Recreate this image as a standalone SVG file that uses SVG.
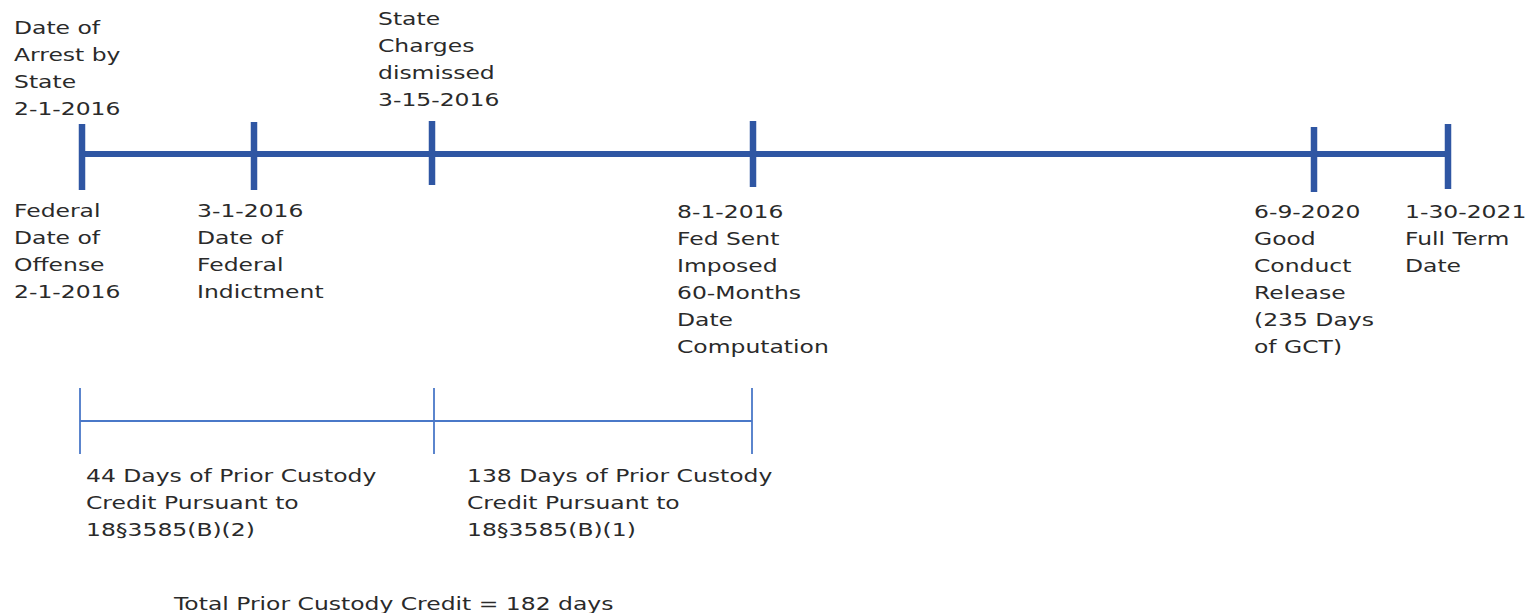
<svg xmlns="http://www.w3.org/2000/svg" width="1540" height="613" viewBox="0 0 1540 613">
  <style>
    .lbl { font-family: "DejaVu Sans", "Liberation Sans", sans-serif; font-size: 17.5px; fill: #2a2a2a; }
    .main { stroke: #2F56A3; stroke-width: 6; fill: none; }
    .tick { stroke: #2F56A3; stroke-width: 6.5; fill: none; }
    .thin { stroke: #4A78C8; stroke-width: 1.8; fill: none; }
  </style>
  <rect width="1540" height="613" fill="#ffffff"/>

  <g id="connectors">
    <line class="main" x1="82" y1="154" x2="1448" y2="154"/>
    <line class="thin" x1="80" y1="421" x2="752" y2="421"/>
  </g>

  <g id="node-arrest-offense">
    <line class="tick" x1="82" y1="124" x2="82" y2="190"/>
    <text class="lbl" transform="translate(14,34) scale(1.34,1)">
      <tspan x="0" dy="0">Date of</tspan>
      <tspan x="0" dy="27">Arrest by</tspan>
      <tspan x="0" dy="27">State</tspan>
      <tspan x="0" dy="27">2-1-2016</tspan>
    </text>
    <text class="lbl" transform="translate(14,217) scale(1.34,1)">
      <tspan x="0" dy="0">Federal</tspan>
      <tspan x="0" dy="27">Date of</tspan>
      <tspan x="0" dy="27">Offense</tspan>
      <tspan x="0" dy="27">2-1-2016</tspan>
    </text>
  </g>

  <g id="node-indictment">
    <line class="tick" x1="254" y1="122" x2="254" y2="190"/>
    <text class="lbl" transform="translate(197,217) scale(1.34,1)">
      <tspan x="0" dy="0">3-1-2016</tspan>
      <tspan x="0" dy="27">Date of</tspan>
      <tspan x="0" dy="27">Federal</tspan>
      <tspan x="0" dy="27">Indictment</tspan>
    </text>
  </g>

  <g id="node-state-dismissed">
    <line class="tick" x1="432" y1="121" x2="432" y2="185"/>
    <text class="lbl" transform="translate(378,25) scale(1.34,1)">
      <tspan x="0" dy="0">State</tspan>
      <tspan x="0" dy="27">Charges</tspan>
      <tspan x="0" dy="27">dismissed</tspan>
      <tspan x="0" dy="27">3-15-2016</tspan>
    </text>
  </g>

  <g id="node-sentence">
    <line class="tick" x1="753" y1="121" x2="753" y2="187"/>
    <text class="lbl" transform="translate(677,218) scale(1.34,1)">
      <tspan x="0" dy="0">8-1-2016</tspan>
      <tspan x="0" dy="27">Fed Sent</tspan>
      <tspan x="0" dy="27">Imposed</tspan>
      <tspan x="0" dy="27">60-Months</tspan>
      <tspan x="0" dy="27">Date</tspan>
      <tspan x="0" dy="27">Computation</tspan>
    </text>
  </g>

  <g id="node-good-conduct">
    <line class="tick" x1="1314" y1="127" x2="1314" y2="192"/>
    <text class="lbl" transform="translate(1254,218) scale(1.34,1)">
      <tspan x="0" dy="0">6-9-2020</tspan>
      <tspan x="0" dy="27">Good</tspan>
      <tspan x="0" dy="27">Conduct</tspan>
      <tspan x="0" dy="27">Release</tspan>
      <tspan x="0" dy="27">(235 Days</tspan>
      <tspan x="0" dy="27">of GCT)</tspan>
    </text>
  </g>

  <g id="node-full-term">
    <line class="tick" x1="1448" y1="124" x2="1448" y2="189"/>
    <text class="lbl" transform="translate(1405,218) scale(1.34,1)">
      <tspan x="0" dy="0">1-30-2021</tspan>
      <tspan x="0" dy="27">Full Term</tspan>
      <tspan x="0" dy="27">Date</tspan>
    </text>
  </g>

  <g id="node-credit-b2">
    <line class="thin" x1="80" y1="388" x2="80" y2="454"/>
    <text class="lbl" transform="translate(86,482) scale(1.34,1)">
      <tspan x="0" dy="0">44 Days of Prior Custody</tspan>
      <tspan x="0" dy="27">Credit Pursuant to</tspan>
      <tspan x="0" dy="27">18§3585(B)(2)</tspan>
    </text>
  </g>

  <g id="node-credit-b1">
    <line class="thin" x1="434" y1="388" x2="434" y2="454"/>
    <line class="thin" x1="752" y1="388" x2="752" y2="454"/>
    <text class="lbl" transform="translate(467,482) scale(1.34,1)">
      <tspan x="0" dy="0">138 Days of Prior Custody</tspan>
      <tspan x="0" dy="27">Credit Pursuant to</tspan>
      <tspan x="0" dy="27">18§3585(B)(1)</tspan>
    </text>
  </g>

  <g id="node-total">
    <text class="lbl" transform="translate(174,610) scale(1.34,1)">Total Prior Custody Credit = 182 days</text>
  </g>
</svg>
